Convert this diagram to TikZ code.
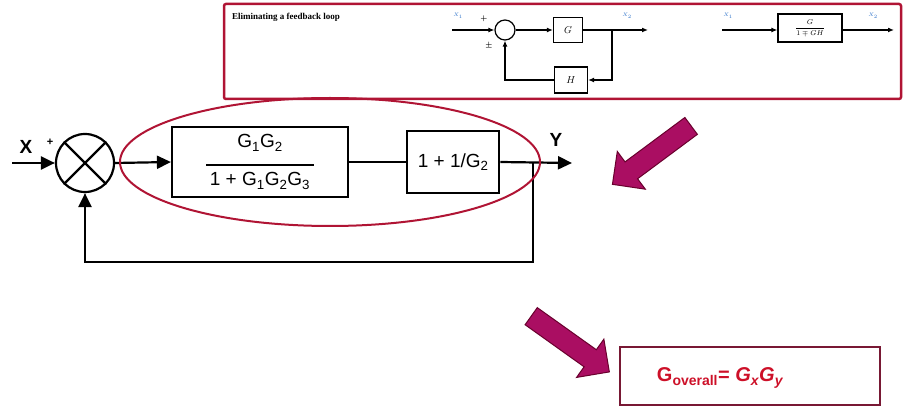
\documentclass[tikz,border=0pt]{standalone}
\usepackage{amsmath}
\usepackage{fontspec}
\setmainfont{Liberation Serif}
\newfontfamily\helv{Liberation Sans}
\usetikzlibrary{arrows.meta,positioning,shapes.arrows}
\definecolor{loopred}{RGB}{176,20,52}
\definecolor{hint}{RGB}{170,14,98}
\definecolor{hintdark}{RGB}{105,0,45}
\definecolor{resred}{RGB}{205,16,40}
\definecolor{resframe}{RGB}{120,24,52}
\definecolor{sigblue}{RGB}{40,110,200}

\begin{document}
\begin{tikzpicture}[x=1pt,y=-1pt,>={Triangle[length=14pt,width=13pt]},
      sig/.style={line width=2.2pt},
      blk/.style={draw,line width=2.2pt,align=center,inner sep=2pt,
        font=\helv\fontsize{19}{22}\selectfont},
      isig/.style={line width=1.4pt},
      itip/.style={-{Latex[length=6pt,width=5pt]}},
      iblk/.style={draw,line width=1.2pt,inner sep=1pt,font=\normalsize},
      ilab/.style={text=sigblue,font=\tiny,inner sep=0pt},
      fat/.style={single arrow,fill=hint,draw=hintdark,line width=1pt,
        inner sep=10pt,single arrow head extend=13pt,minimum width=46pt}]
  \useasboundingbox (0,0) rectangle (903,414);

  % reminder: eliminating a feedback loop
  \draw[loopred,line width=2.5pt,rounded corners=2pt] (224,4) rectangle (901,99);
  \node[anchor=west,font=\bfseries\fontsize{9}{11}\selectfont,inner sep=0pt] (title) at (232,17) {Eliminating a feedback loop};
  \node[draw,circle,line width=1.2pt,minimum size=20pt,inner sep=0pt] (s1) at (505,30) {};
  \node[iblk,minimum width=29pt,minimum height=25pt] (g) at (568,30) {$G$};
  \node[iblk,minimum width=33pt,minimum height=26pt] (h) at (571,80) {$H$};
  \coordinate (x1in) at (452,30);
  \coordinate (x2out) at (648,30);
  \coordinate (ibr) at (612,30);
  \node[ilab] (lx1) at (458,16) {$X_1$};
  \node[ilab] (lx2) at (627,16) {$X_2$};
  \node[font=\scriptsize,inner sep=0pt] (pl) at (484,19) {$\boldsymbol{+}$};
  \node[font=\scriptsize,inner sep=0pt] (pm) at (489,46) {$\boldsymbol{\pm}$};
  \draw[isig,itip] (x1in) -- (s1.west);
  \draw[isig,itip] (s1.east) -- (g.west);
  \draw[isig,itip] (g.east) -- (x2out);
  \draw[isig,itip] (ibr) |- (h.east);
  \draw[isig,itip] (h.west) -| (s1.south);

  \node[iblk,minimum width=64pt,minimum height=28pt,font=\scriptsize] (cl) at (810,28) {$\dfrac{G}{1\mp GH}$};
  \coordinate (rin) at (722,30);
  \coordinate (rout) at (894,30);
  \node[ilab] (rx1) at (728,16) {$X_1$};
  \node[ilab] (rx2) at (873,16) {$X_2$};
  \draw[isig,itip] (rin) -- (rin-|cl.west);
  \draw[isig,itip] (rout-|cl.east) -- (rout);

  % the loop to reduce
  \node[draw,circle,line width=2.2pt,minimum size=58pt,inner sep=0pt] (sum) at (85,163) {};
  \draw[line width=2.2pt] (sum.45) -- (sum.225) (sum.135) -- (sum.-45);
  \node[blk,minimum width=176pt,minimum height=70pt] (b1) at (260,162)
    {G\textsubscript{1}G\textsubscript{2}\\[-4pt]\rule{108pt}{1.8pt}\\[-2pt]1 + G\textsubscript{1}G\textsubscript{2}G\textsubscript{3}};
  \node[blk,minimum width=92pt,minimum height=62pt,right=57pt of b1] (b2) {1 + 1/G\textsubscript{2}};
  \coordinate (xin) at (12,163);
  \coordinate (yout) at (572,163);
  \coordinate (br) at (533,163);
  \coordinate (fb) at (533,262);
  \node[font=\helv\bfseries\fontsize{19}{22}\selectfont] (lx) at (26,147) {X};
  \node[font=\helv\bfseries\fontsize{19}{22}\selectfont] (ly) at (556,140) {Y};
  \node[font=\helv\bfseries\fontsize{11}{12}\selectfont,inner sep=0pt] (lp) at (50,142) {+};
  \draw[sig,->] (xin) -- (sum.west);
  \draw[sig,->] (sum.east) -- (b1.west);
  \draw[sig] (b1.east) -- (b2.west);
  \draw[sig,->] (b2.east) -- (yout);
  \draw[sig,->] (br) -- (fb) -| (sum.south);
  \draw[loopred,line width=2pt] (330,162) ellipse [x radius=210pt,y radius=64pt];

  % hints and result
  \node[fat,rotate=216.6,minimum height=98pt] (hint1) at (656,152) {};
  \node[fat,rotate=-35.5,minimum height=96pt] (hint2) at (566,341) {};
  \node[draw=resframe,line width=2pt,minimum width=260pt,minimum height=58pt] (tot) at (750,376) {};
  \node[text=resred,font=\helv\bfseries\fontsize{20}{22}\selectfont] (totlbl) at (720,378)
    {G\textsubscript{overall}= \textit{G\textsubscript{x}G\textsubscript{y}}};
\end{tikzpicture}
\end{document}
